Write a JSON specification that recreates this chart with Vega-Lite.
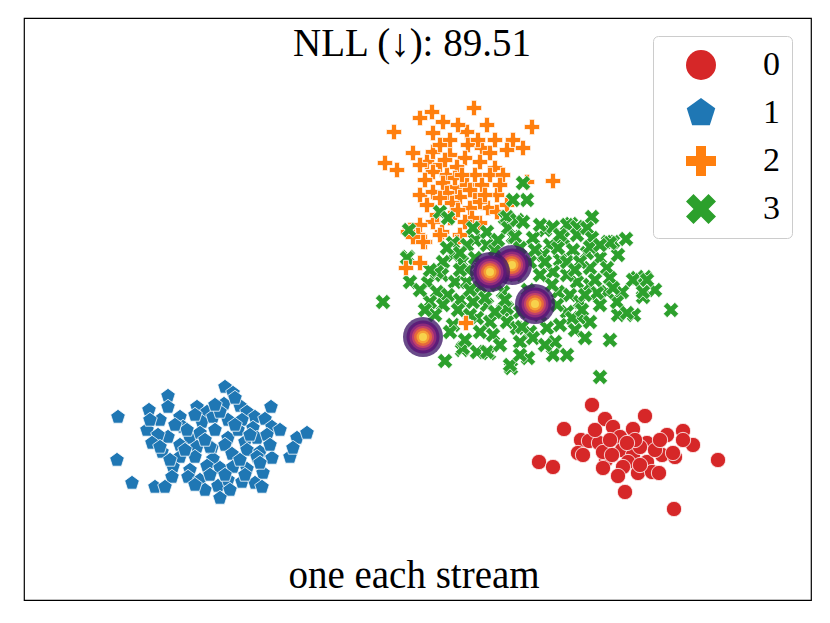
{
  "$schema": "https://vega.github.io/schema/vega-lite/v6.json",
  "width": 787,
  "height": 582,
  "autosize": {"type": "none"},
  "padding": {"left": 24, "top": 18, "right": 19, "bottom": 23},
  "background": "white",
  "config": {
    "view": {"stroke": "black", "strokeWidth": 1.2},
    "font": "Liberation Serif"
  },
  "datasets": {
    "points": [
      {"x":474,"y":108,"label":"2"},{"x":432,"y":112,"label":"2"},{"x":420,"y":118,"label":"2"},{"x":443,"y":122,"label":"2"},{"x":487,"y":125,"label":"2"},{"x":532,"y":127,"label":"2"},{"x":467,"y":132,"label":"2"},{"x":433,"y":133,"label":"2"},{"x":513,"y":140,"label":"2"},{"x":523,"y":148,"label":"2"},{"x":507,"y":150,"label":"2"},{"x":468,"y":145,"label":"2"},{"x":482,"y":148,"label":"2"},{"x":413,"y":153,"label":"2"},{"x":433,"y":152,"label":"2"},{"x":450,"y":155,"label":"2"},{"x":490,"y":153,"label":"2"},{"x":465,"y":158,"label":"2"},{"x":480,"y":162,"label":"2"},{"x":427,"y":162,"label":"2"},{"x":440,"y":165,"label":"2"},{"x":420,"y":165,"label":"2"},{"x":457,"y":167,"label":"2"},{"x":495,"y":168,"label":"2"},{"x":433,"y":172,"label":"2"},{"x":475,"y":175,"label":"2"},{"x":447,"y":175,"label":"2"},{"x":490,"y":175,"label":"2"},{"x":503,"y":175,"label":"2"},{"x":527,"y":182,"label":"2"},{"x":443,"y":183,"label":"2"},{"x":455,"y":187,"label":"2"},{"x":467,"y":185,"label":"2"},{"x":482,"y":185,"label":"2"},{"x":420,"y":195,"label":"2"},{"x":433,"y":192,"label":"2"},{"x":447,"y":193,"label":"2"},{"x":460,"y":197,"label":"2"},{"x":475,"y":195,"label":"2"},{"x":497,"y":195,"label":"2"},{"x":427,"y":205,"label":"2"},{"x":452,"y":203,"label":"2"},{"x":470,"y":208,"label":"2"},{"x":488,"y":208,"label":"2"},{"x":480,"y":202,"label":"2"},{"x":410,"y":230,"label":"2"},{"x":442,"y":232,"label":"2"},{"x":425,"y":242,"label":"2"},{"x":460,"y":235,"label":"2"},{"x":480,"y":223,"label":"2"},{"x":450,"y":218,"label":"2"},{"x":433,"y":222,"label":"2"},{"x":472,"y":218,"label":"2"},{"x":420,"y":225,"label":"2"},{"x":418,"y":235,"label":"2"},{"x":497,"y":212,"label":"2"},{"x":507,"y":205,"label":"2"},{"x":385,"y":163,"label":"2"},{"x":397,"y":170,"label":"2"},{"x":394,"y":132,"label":"2"},{"x":553,"y":181,"label":"2"},{"x":423,"y":242,"label":"2"},{"x":440,"y":235,"label":"2"},{"x":457,"y":242,"label":"2"},{"x":408,"y":232,"label":"2"},{"x":413,"y":237,"label":"2"},{"x":450,"y":140,"label":"2"},{"x":458,"y":125,"label":"2"},{"x":440,"y":145,"label":"2"},{"x":495,"y":140,"label":"2"},{"x":470,"y":190,"label":"2"},{"x":455,"y":178,"label":"2"},
      {"x":445,"y":160,"label":"2"},{"x":462,"y":175,"label":"2"},{"x":485,"y":195,"label":"2"},{"x":440,"y":198,"label":"2"},{"x":458,"y":210,"label":"2"},{"x":425,"y":180,"label":"2"},{"x":478,"y":140,"label":"2"},{"x":500,"y":185,"label":"2"},{"x":437,"y":215,"label":"2"},{"x":465,"y":222,"label":"2"},
      {"x":383,"y":302,"label":"3"},{"x":409,"y":230,"label":"3"},{"x":440,"y":212,"label":"3"},{"x":523,"y":183,"label":"3"},{"x":527,"y":200,"label":"3"},{"x":592,"y":217,"label":"3"},{"x":571,"y":224,"label":"3"},{"x":608,"y":242,"label":"3"},{"x":626,"y":239,"label":"3"},{"x":505,"y":218,"label":"3"},{"x":545,"y":230,"label":"3"},{"x":600,"y":377,"label":"3"},{"x":511,"y":368,"label":"3"},{"x":445,"y":361,"label":"3"},{"x":462,"y":350,"label":"3"},{"x":489,"y":353,"label":"3"},{"x":671,"y":310,"label":"3"},{"x":610,"y":340,"label":"3"},{"x":637,"y":278,"label":"3"},{"x":643,"y":297,"label":"3"},{"x":634,"y":315,"label":"3"},{"x":618,"y":315,"label":"3"},{"x":655,"y":290,"label":"3"},
      {"x":448,"y":218,"label":"3"},{"x":507,"y":217,"label":"3"},{"x":513,"y":237,"label":"3"},{"x":475,"y":240,"label":"3"},{"x":487,"y":245,"label":"3"},{"x":408,"y":257,"label":"3"},{"x":453,"y":255,"label":"3"},{"x":443,"y":262,"label":"3"},{"x":462,"y":262,"label":"3"},{"x":410,"y":282,"label":"3"},{"x":428,"y":283,"label":"3"},{"x":442,"y":275,"label":"3"},{"x":455,"y":282,"label":"3"},{"x":467,"y":282,"label":"3"},{"x":480,"y":287,"label":"3"},{"x":437,"y":292,"label":"3"},{"x":448,"y":295,"label":"3"},{"x":430,"y":302,"label":"3"},{"x":460,"y":300,"label":"3"},{"x":473,"y":302,"label":"3"},{"x":487,"y":305,"label":"3"},{"x":458,"y":310,"label":"3"},{"x":443,"y":305,"label":"3"},{"x":435,"y":315,"label":"3"},{"x":477,"y":318,"label":"3"},{"x":490,"y":322,"label":"3"},{"x":503,"y":310,"label":"3"},{"x":507,"y":322,"label":"3"},{"x":453,"y":325,"label":"3"},{"x":480,"y":332,"label":"3"},{"x":493,"y":335,"label":"3"},{"x":463,"y":348,"label":"3"},{"x":477,"y":352,"label":"3"},{"x":487,"y":352,"label":"3"},{"x":510,"y":365,"label":"3"},{"x":503,"y":292,"label":"3"},{"x":497,"y":285,"label":"3"},{"x":480,"y":267,"label":"3"},{"x":468,"y":270,"label":"3"},{"x":437,"y":272,"label":"3"},{"x":487,"y":232,"label":"3"},{"x":467,"y":245,"label":"3"},{"x":453,"y":243,"label":"3"},{"x":473,"y":228,"label":"3"},{"x":508,"y":228,"label":"3"},{"x":517,"y":220,"label":"3"},{"x":447,"y":248,"label":"3"},{"x":460,"y":253,"label":"3"},
      {"x":513,"y":200,"label":"3"},{"x":567,"y":225,"label":"3"},{"x":553,"y":227,"label":"3"},{"x":577,"y":227,"label":"3"},{"x":523,"y":222,"label":"3"},{"x":515,"y":237,"label":"3"},{"x":533,"y":238,"label":"3"},{"x":550,"y":245,"label":"3"},{"x":563,"y":238,"label":"3"},{"x":577,"y":235,"label":"3"},{"x":587,"y":228,"label":"3"},{"x":592,"y":238,"label":"3"},{"x":613,"y":242,"label":"3"},{"x":618,"y":255,"label":"3"},{"x":600,"y":258,"label":"3"},{"x":587,"y":253,"label":"3"},{"x":573,"y":250,"label":"3"},{"x":560,"y":260,"label":"3"},{"x":543,"y":255,"label":"3"},{"x":530,"y":262,"label":"3"},{"x":590,"y":268,"label":"3"},{"x":607,"y":268,"label":"3"},{"x":610,"y":278,"label":"3"},{"x":633,"y":280,"label":"3"},{"x":645,"y":277,"label":"3"},{"x":643,"y":292,"label":"3"},{"x":622,"y":292,"label":"3"},{"x":617,"y":302,"label":"3"},{"x":607,"y":292,"label":"3"},{"x":590,"y":285,"label":"3"},{"x":577,"y":282,"label":"3"},{"x":567,"y":275,"label":"3"},{"x":553,"y":272,"label":"3"},{"x":540,"y":275,"label":"3"},{"x":558,"y":292,"label":"3"},{"x":570,"y":295,"label":"3"},{"x":580,"y":302,"label":"3"},{"x":600,"y":305,"label":"3"},{"x":580,"y":318,"label":"3"},{"x":567,"y":312,"label":"3"},{"x":557,"y":305,"label":"3"},{"x":547,"y":328,"label":"3"},{"x":530,"y":332,"label":"3"},{"x":517,"y":328,"label":"3"},{"x":520,"y":342,"label":"3"},{"x":533,"y":338,"label":"3"},{"x":555,"y":342,"label":"3"},{"x":553,"y":355,"label":"3"},{"x":567,"y":355,"label":"3"},{"x":528,"y":358,"label":"3"},{"x":507,"y":308,"label":"3"},{"x":567,"y":262,"label":"3"},{"x":580,"y":262,"label":"3"},{"x":590,"y":247,"label":"3"},
      {"x":407,"y":258,"label":"3"},{"x":522,"y":327,"label":"3"},{"x":572,"y":318,"label":"3"},{"x":582,"y":310,"label":"3"},{"x":597,"y":293,"label":"3"},{"x":613,"y":288,"label":"3"},{"x":627,"y":313,"label":"3"},{"x":647,"y":280,"label":"3"},{"x":610,"y":243,"label":"3"},
      {"x":495,"y":250,"label":"3"},{"x":520,"y":248,"label":"3"},{"x":535,"y":250,"label":"3"},{"x":545,"y":262,"label":"3"},{"x":558,"y":248,"label":"3"},{"x":500,"y":262,"label":"3"},{"x":515,"y":275,"label":"3"},{"x":528,"y":290,"label":"3"},{"x":540,"y":300,"label":"3"},{"x":552,"y":285,"label":"3"},{"x":585,"y":295,"label":"3"},{"x":595,"y":280,"label":"3"},{"x":575,"y":270,"label":"3"},{"x":600,"y":245,"label":"3"},{"x":560,"y":235,"label":"3"},{"x":540,"y":225,"label":"3"},{"x":505,"y":300,"label":"3"},{"x":495,"y":312,"label":"3"},{"x":520,"y":312,"label":"3"},{"x":540,"y":315,"label":"3"},{"x":560,"y":325,"label":"3"},{"x":575,"y":330,"label":"3"},{"x":590,"y":322,"label":"3"},{"x":470,"y":290,"label":"3"},{"x":485,"y":298,"label":"3"},{"x":460,"y":270,"label":"3"},{"x":475,"y":258,"label":"3"},{"x":498,"y":240,"label":"3"},{"x":450,"y":332,"label":"3"},{"x":465,"y":340,"label":"3"},{"x":500,"y":345,"label":"3"},{"x":545,"y":345,"label":"3"},{"x":585,"y":338,"label":"3"},{"x":520,"y":355,"label":"3"},{"x":470,"y":315,"label":"3"},{"x":430,"y":270,"label":"3"},{"x":420,"y":290,"label":"3"},{"x":425,"y":310,"label":"3"},
      {"x":466,"y":323,"label":"2"},{"x":420,"y":263,"label":"2"},{"x":406,"y":268,"label":"2"},
      {"x":592,"y":405,"label":"0"},{"x":605,"y":419,"label":"0"},{"x":645,"y":416,"label":"0"},{"x":564,"y":429,"label":"0"},{"x":613,"y":427,"label":"0"},{"x":633,"y":429,"label":"0"},{"x":683,"y":431,"label":"0"},{"x":667,"y":435,"label":"0"},{"x":581,"y":440,"label":"0"},{"x":589,"y":441,"label":"0"},{"x":599,"y":443,"label":"0"},{"x":620,"y":437,"label":"0"},{"x":647,"y":443,"label":"0"},{"x":693,"y":445,"label":"0"},{"x":683,"y":440,"label":"0"},{"x":578,"y":453,"label":"0"},{"x":583,"y":455,"label":"0"},{"x":606,"y":460,"label":"0"},{"x":622,"y":450,"label":"0"},{"x":633,"y":455,"label":"0"},{"x":628,"y":462,"label":"0"},{"x":662,"y":455,"label":"0"},{"x":675,"y":457,"label":"0"},{"x":673,"y":453,"label":"0"},{"x":647,"y":462,"label":"0"},{"x":603,"y":468,"label":"0"},{"x":623,"y":467,"label":"0"},{"x":638,"y":473,"label":"0"},{"x":652,"y":472,"label":"0"},{"x":659,"y":473,"label":"0"},{"x":618,"y":476,"label":"0"},{"x":539,"y":462,"label":"0"},{"x":553,"y":467,"label":"0"},{"x":718,"y":460,"label":"0"},{"x":625,"y":492,"label":"0"},{"x":674,"y":509,"label":"0"},{"x":640,"y":447,"label":"0"},{"x":603,"y":452,"label":"0"},{"x":612,"y":455,"label":"0"},{"x":635,"y":440,"label":"0"},{"x":627,"y":443,"label":"0"},{"x":610,"y":440,"label":"0"},{"x":655,"y":450,"label":"0"},{"x":595,"y":430,"label":"0"},{"x":640,"y":465,"label":"0"},{"x":660,"y":440,"label":"0"},
      {"x":118,"y":417,"label":"1"},{"x":168,"y":396,"label":"1"},{"x":168,"y":407,"label":"1"},{"x":149,"y":410,"label":"1"},{"x":225,"y":387,"label":"1"},{"x":233,"y":393,"label":"1"},{"x":271,"y":407,"label":"1"},{"x":197,"y":407,"label":"1"},{"x":207,"y":412,"label":"1"},{"x":224,"y":404,"label":"1"},{"x":240,"y":406,"label":"1"},{"x":247,"y":412,"label":"1"},{"x":255,"y":417,"label":"1"},{"x":265,"y":419,"label":"1"},{"x":160,"y":420,"label":"1"},{"x":180,"y":417,"label":"1"},{"x":183,"y":427,"label":"1"},{"x":202,"y":422,"label":"1"},{"x":213,"y":417,"label":"1"},{"x":228,"y":420,"label":"1"},{"x":242,"y":420,"label":"1"},{"x":253,"y":428,"label":"1"},{"x":272,"y":427,"label":"1"},{"x":147,"y":430,"label":"1"},{"x":168,"y":437,"label":"1"},{"x":158,"y":435,"label":"1"},{"x":190,"y":438,"label":"1"},{"x":215,"y":430,"label":"1"},{"x":228,"y":438,"label":"1"},{"x":238,"y":430,"label":"1"},{"x":245,"y":442,"label":"1"},{"x":257,"y":438,"label":"1"},{"x":267,"y":435,"label":"1"},{"x":152,"y":443,"label":"1"},{"x":162,"y":452,"label":"1"},{"x":180,"y":445,"label":"1"},{"x":197,"y":447,"label":"1"},{"x":212,"y":448,"label":"1"},{"x":225,"y":445,"label":"1"},{"x":247,"y":450,"label":"1"},{"x":260,"y":452,"label":"1"},{"x":272,"y":458,"label":"1"},{"x":290,"y":457,"label":"1"},{"x":297,"y":438,"label":"1"},{"x":307,"y":433,"label":"1"},{"x":293,"y":448,"label":"1"},{"x":117,"y":460,"label":"1"},{"x":180,"y":457,"label":"1"},{"x":195,"y":457,"label":"1"},{"x":213,"y":459,"label":"1"},{"x":232,"y":454,"label":"1"},{"x":257,"y":457,"label":"1"},{"x":173,"y":467,"label":"1"},{"x":190,"y":470,"label":"1"},{"x":207,"y":466,"label":"1"},{"x":220,"y":468,"label":"1"},{"x":233,"y":467,"label":"1"},{"x":247,"y":469,"label":"1"},{"x":263,"y":473,"label":"1"},{"x":172,"y":477,"label":"1"},{"x":188,"y":477,"label":"1"},{"x":132,"y":483,"label":"1"},{"x":155,"y":487,"label":"1"},{"x":165,"y":487,"label":"1"},{"x":200,"y":480,"label":"1"},{"x":205,"y":490,"label":"1"},{"x":218,"y":486,"label":"1"},{"x":228,"y":480,"label":"1"},{"x":230,"y":490,"label":"1"},{"x":242,"y":482,"label":"1"},{"x":255,"y":483,"label":"1"},{"x":262,"y":487,"label":"1"},{"x":220,"y":498,"label":"1"},{"x":210,"y":447,"label":"1"},{"x":200,"y":433,"label":"1"},{"x":187,"y":430,"label":"1"},
      {"x":175,"y":425,"label":"1"},{"x":195,"y":415,"label":"1"},{"x":220,"y":412,"label":"1"},{"x":235,"y":425,"label":"1"},{"x":250,"y":435,"label":"1"},{"x":205,"y":440,"label":"1"},{"x":185,"y":450,"label":"1"},{"x":170,"y":460,"label":"1"},{"x":240,"y":460,"label":"1"},{"x":225,"y":475,"label":"1"},{"x":210,"y":475,"label":"1"},{"x":195,"y":485,"label":"1"},{"x":245,"y":475,"label":"1"},{"x":270,"y":445,"label":"1"},{"x":280,"y":430,"label":"1"},{"x":160,"y":447,"label":"1"},{"x":150,"y":420,"label":"1"},{"x":235,"y":398,"label":"1"},{"x":215,"y":405,"label":"1"},{"x":260,"y":463,"label":"1"}
    ],
    "blobs": [
      {"x":512,"y":265,"level":"0"},{"x":512,"y":265,"level":"1"},{"x":512,"y":265,"level":"2"},{"x":512,"y":265,"level":"3"},{"x":512,"y":265,"level":"4"},{"x":512,"y":265,"level":"5"},{"x":512,"y":265,"level":"6"},
      {"x":490,"y":272,"level":"0"},{"x":490,"y":272,"level":"1"},{"x":490,"y":272,"level":"2"},{"x":490,"y":272,"level":"3"},{"x":490,"y":272,"level":"4"},{"x":490,"y":272,"level":"5"},{"x":490,"y":272,"level":"6"},
      {"x":535,"y":304,"level":"0"},{"x":535,"y":304,"level":"1"},{"x":535,"y":304,"level":"2"},{"x":535,"y":304,"level":"3"},{"x":535,"y":304,"level":"4"},{"x":535,"y":304,"level":"5"},{"x":535,"y":304,"level":"6"},
      {"x":423,"y":337,"level":"0"},{"x":423,"y":337,"level":"1"},{"x":423,"y":337,"level":"2"},{"x":423,"y":337,"level":"3"},{"x":423,"y":337,"level":"4"},{"x":423,"y":337,"level":"5"},{"x":423,"y":337,"level":"6"}
    ],
    "texts": [
      {"x":412,"y":56,"text":"NLL (↓): 89.51"},
      {"x":414,"y":588,"text":"one each stream"}
    ]
  },
  "layer": [
    {
      "data": {"name": "points"},
      "mark": {"type": "point", "filled": true, "size": 235, "stroke": "white", "strokeWidth": 0.8, "opacity": 1},
      "encoding": {
        "x": {"field": "x", "type": "quantitative", "scale": {"domain": [24, 811], "nice": false, "zero": false}, "axis": null},
        "y": {"field": "y", "type": "quantitative", "scale": {"domain": [600, 18], "nice": false, "zero": false}, "axis": null},
        "color": {
          "field": "label", "type": "nominal",
          "scale": {"domain": ["0", "1", "2", "3"], "range": ["#d62728", "#1f77b4", "#ff7f0e", "#2ca02c"]},
          "legend": {"title": null, "orient": "none", "legendX": 629, "legendY": 18, "padding": 12, "symbolOffset": 19, "labelOffset": 45, "rowPadding": 14, "labelFontSize": 34, "labelFont": "Liberation Serif", "labelColor": "black", "symbolSize": 900, "strokeColor": "#cccccc", "cornerRadius": 5, "fillColor": "rgba(255,255,255,0.8)", "symbolStrokeColor": "white", "symbolStrokeWidth": 0.8, "symbolOpacity": 1}
        },
        "shape": {
          "field": "label", "type": "nominal",
          "scale": {"domain": ["0", "1", "2", "3"], "range": [
            "circle",
            "M0,-1L0.951,-0.309L0.588,0.809L-0.588,0.809L-0.951,-0.309Z",
            "M-0.333,-1L0.333,-1L0.333,-0.333L1,-0.333L1,0.333L0.333,0.333L0.333,1L-0.333,1L-0.333,0.333L-1,0.333L-1,-0.333L-0.333,-0.333Z",
            "M-0.5,-1L0,-0.5L0.5,-1L1,-0.5L0.5,0L1,0.5L0.5,1L0,0.5L-0.5,1L-1,0.5L-0.5,0L-1,-0.5Z"
          ]},
          "legend": {"title": null, "orient": "none", "legendX": 629, "legendY": 18, "padding": 12, "symbolOffset": 19, "labelOffset": 45, "rowPadding": 14, "labelFontSize": 34, "labelFont": "Liberation Serif", "labelColor": "black", "symbolSize": 900, "strokeColor": "#cccccc", "cornerRadius": 5, "fillColor": "rgba(255,255,255,0.8)", "symbolStrokeColor": "white", "symbolStrokeWidth": 0.8, "symbolOpacity": 1}
        }
      }
    },
    {
      "data": {"name": "blobs"},
      "mark": {"type": "point", "filled": true, "shape": "circle", "strokeWidth": 0},
      "encoding": {
        "x": {"field": "x", "type": "quantitative"},
        "y": {"field": "y", "type": "quantitative"},
        "fill": {"field": "level", "type": "ordinal", "scale": {"domain": ["0","1","2","3","4","5","6"], "range": ["#3f1868", "#5c1a78", "#8e2a7c", "#c2416a", "#e5683c", "#f59e34", "#f7d24c"]}, "legend": null},
        "size": {"field": "level", "type": "ordinal", "scale": {"type": "ordinal", "domain": ["0","1","2","3","4","5","6"], "range": [1600, 1089, 729, 484, 324, 169, 64]}, "legend": null},
        "opacity": {"field": "level", "type": "ordinal", "scale": {"type": "ordinal", "domain": ["0","1","2","3","4","5","6"], "range": [0.78, 0.95, 1, 1, 1, 1, 1]}, "legend": null}
      }
    },
    {
      "data": {"name": "texts"},
      "mark": {"type": "text", "font": "Liberation Serif", "fontSize": 39, "align": "center", "baseline": "alphabetic", "color": "black"},
      "encoding": {
        "x": {"field": "x", "type": "quantitative"},
        "y": {"field": "y", "type": "quantitative"},
        "text": {"field": "text", "type": "nominal"}
      }
    }
  ]
}
